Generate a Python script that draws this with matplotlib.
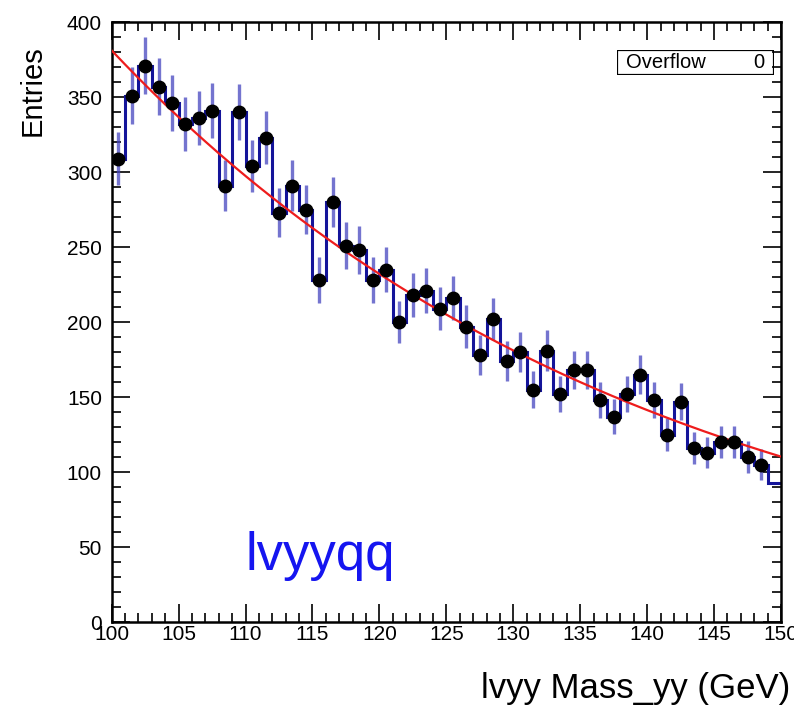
import numpy as np
import matplotlib.pyplot as plt
from matplotlib.ticker import MultipleLocator
from matplotlib.patches import Rectangle

plt.rcParams['font.family'] = ['Liberation Sans', 'DejaVu Sans']

# histogram: 50 bins of 1 GeV from 100 to 150
edges = np.arange(100, 151, 1)
counts = [309, 351, 371, 357, 346, 332, 336, 341, 291, 340,
          304, 323, 273, 291, 275, 228, 280, 251, 248, 228,
          235, 200, 218, 221, 209, 216, 197, 178, 202, 174,
          180, 155, 181, 152, 168, 168, 148, 137, 152, 165,
          148, 125, 147, 116, 113, 120, 120, 110, 105, 93]
# last bin has no marker drawn in the original
n_points = 49

# exponential fit: N(x) = fit_norm * exp(fit_slope * (x - 100))
fit_norm = 381.0
fit_slope = -0.0248

counts = np.array(counts, dtype=float)
centers = 0.5 * (edges[:-1] + edges[1:])
errors = np.sqrt(counts)

fig = plt.figure(figsize=(7.94, 7.19), dpi=100)
ax = fig.add_axes([0.1407, 0.1349, 0.8429, 0.8345])

ax.stairs(counts, edges, baseline=None, color='#14149a', lw=2.2, zorder=2)
ax.errorbar(centers[:n_points], counts[:n_points], yerr=errors[:n_points],
            fmt='none', ecolor='#4545c0', elinewidth=2.4, alpha=0.75, zorder=3)
xf = np.linspace(100, 150, 200)
ax.plot(xf, fit_norm * np.exp(fit_slope * (xf - 100)), color='#ee1c1c', lw=1.6, zorder=4)
ax.plot(centers[:n_points], counts[:n_points], 'o', color='black', ms=9, zorder=5)

ax.set_xlim(100, 150)
ax.set_ylim(0, 400)
ax.xaxis.set_major_locator(MultipleLocator(5))
ax.xaxis.set_minor_locator(MultipleLocator(1))
ax.yaxis.set_major_locator(MultipleLocator(50))
ax.yaxis.set_minor_locator(MultipleLocator(10))
ax.tick_params(which='both', direction='in', top=True, right=True, width=1.2,
               labelsize=15, colors='black')
ax.tick_params(which='major', length=13)
ax.tick_params(which='minor', length=6.5)
ax.tick_params(axis='y', pad=7)
ax.tick_params(axis='x', pad=2)
for s in ax.spines.values():
    s.set_linewidth(1.8)

ax.set_ylabel('Entries', fontsize=21)
ax.yaxis.set_label_coords(-0.097, 0.885)
fig.text(0.995, 0.02, 'lvyy Mass_yy (GeV)', fontsize=25, ha='right', va='bottom')

ax.text(110, 35, 'lvyyqq', color='#1515f0', fontsize=38, va='baseline')

# overflow box
bx = fig.add_axes([0.777, 0.895, 0.198, 0.035])
bx.set_axis_off()
bx.add_patch(Rectangle((0, 0), 1, 1, transform=bx.transAxes, fill=False,
                       lw=1.6, ec='black'))
bx.text(0.06, 0.5, 'Overflow', fontsize=14.5, va='center', ha='left')
bx.text(0.94, 0.5, '0', fontsize=14.5, va='center', ha='right')

fig.savefig('out.png', dpi=100)
